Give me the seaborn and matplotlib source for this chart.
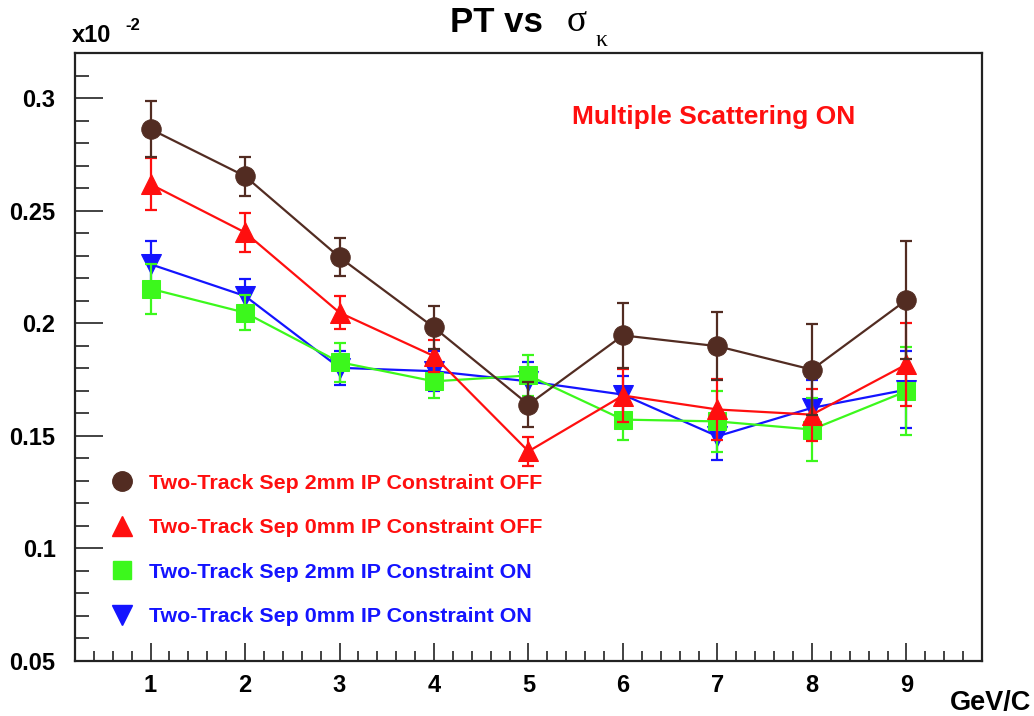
import matplotlib
matplotlib.use('Agg')
from matplotlib import pyplot as plt
from matplotlib.lines import Line2D
from matplotlib.ticker import MultipleLocator, FormatStrFormatter
import seaborn as sns
import numpy as np

sns.set_theme(style='white')
plt.rcParams['font.family'] = ['Liberation Sans', 'DejaVu Sans']
plt.rcParams['text.color'] = 'black'

pt = [1, 2, 3, 4, 5, 6, 7, 8, 9]

sep2_off = [0.2862, 0.2653, 0.2293, 0.1981, 0.1639, 0.1946, 0.1898, 0.1794, 0.2103]
sep2_off_err = [0.0125, 0.0087, 0.0085, 0.0097, 0.0098, 0.0143, 0.0152, 0.0202, 0.0260]

sep0_off = [0.2617, 0.2403, 0.2047, 0.1854, 0.1431, 0.1679, 0.1617, 0.1594, 0.1817]
sep0_off_err = [0.0115, 0.0085, 0.0073, 0.0070, 0.0065, 0.0118, 0.0137, 0.0115, 0.0186]

sep2_on = [0.2153, 0.2047, 0.1827, 0.1742, 0.1768, 0.1572, 0.1564, 0.1528, 0.1698]
sep2_on_err = [0.0112, 0.0078, 0.0086, 0.0075, 0.0090, 0.0089, 0.0135, 0.0140, 0.0195]

sep0_on = [0.2262, 0.2121, 0.1802, 0.1787, 0.1742, 0.1683, 0.1498, 0.1624, 0.1705]
sep0_on_err = [0.0105, 0.0075, 0.0075, 0.0090, 0.0085, 0.0082, 0.0105, 0.0123, 0.0172]

labels = ['Two-Track Sep 2mm IP Constraint OFF',
          'Two-Track Sep 0mm IP Constraint OFF',
          'Two-Track Sep 2mm IP Constraint ON',
          'Two-Track Sep 0mm IP Constraint ON']

series = [
    (sep2_off, sep2_off_err, '#522c22', 'o', 14, 8),
    (sep0_off, sep0_off_err, '#ff0f0f', '^', 15, 7),
    (sep2_on, sep2_on_err, '#3cf81c', 's', 13, 6),
    (sep0_on, sep0_on_err, '#1414ff', 'v', 15, 5),
]
text_colors = ['#ff0f0f', '#ff0f0f', '#1414ff', '#1414ff']

fig = plt.figure(figsize=(10.34, 7.16), dpi=100)
ax = fig.add_axes([0.0725, 0.0768, 0.8772, 0.8492])

handles = []
for (vals, errs, color, mk, ms, z) in series:
    ax.errorbar(pt, vals, yerr=errs, fmt='none', ecolor=color, elinewidth=1.6,
                capsize=4, capthick=1.6, zorder=z)
    sns.lineplot(x=pt, y=vals, ax=ax, color=color, marker=mk, markersize=ms,
                 markeredgecolor=color, linewidth=1.6, zorder=z + 0.5)
    handles.append(Line2D([], [], color=color, marker=mk, markersize=ms,
                          markeredgecolor=color, linestyle='none'))

ax.set_xlim(0.2, 9.8)
ax.set_ylim(0.05, 0.32)
ax.xaxis.set_major_locator(MultipleLocator(1))
ax.xaxis.set_minor_locator(MultipleLocator(0.2))
ax.yaxis.set_major_locator(MultipleLocator(0.05))
ax.yaxis.set_minor_locator(MultipleLocator(0.01))
ax.yaxis.set_major_formatter(FormatStrFormatter('%g'))
ax.set_xticks([1, 2, 3, 4, 5, 6, 7, 8, 9])
ax.tick_params(axis='x', which='major', direction='in', length=13, width=1.2,
               pad=9, labelsize=17, bottom=True, top=False, color='#222222',
               labelcolor='black')
ax.tick_params(axis='x', which='minor', direction='in', length=7, width=1.2,
               bottom=True, top=False, color='#222222')
ax.tick_params(axis='y', which='major', direction='in', length=20, width=1.2,
               pad=14, labelsize=17, left=True, right=False, color='#222222',
               labelcolor='black')
ax.tick_params(axis='y', which='minor', direction='in', length=10, width=1.2,
               left=True, right=False, color='#222222')
for lab in ax.get_xticklabels() + ax.get_yticklabels():
    lab.set_fontweight('bold')
for sp in ax.spines.values():
    sp.set_color('#222222')
    sp.set_linewidth(1.6)
ax.set_xlabel('')
ax.set_ylabel('')

leg = ax.legend(handles, labels, loc='upper left', bbox_to_anchor=(0.040, 0.308),
                frameon=False, handlelength=1.0, handletextpad=0.75,
                labelspacing=1.19, borderpad=0, borderaxespad=0,
                prop={'weight': 'bold', 'size': 15.4})
for t, c in zip(leg.get_texts(), text_colors):
    t.set_color(c)

ax.text(0.548, 0.894, 'Multiple Scattering ON', transform=ax.transAxes,
        color='#ff0f0f', fontsize=19, fontweight='bold', ha='left', va='center')

fig.text(0.435, 0.968, 'PT vs', ha='left', va='center',
         fontsize=25, fontweight='bold', color='black')
fig.text(0.548, 0.970, '\u03c3', ha='left', va='center', fontsize=27,
         family=['Liberation Serif', 'DejaVu Serif'], color='black')
fig.text(0.576, 0.944, '\u03ba', ha='left', va='center', fontsize=17,
         family=['Liberation Serif', 'DejaVu Serif'], color='black')
fig.text(0.069, 0.950, 'x10', ha='left', va='center', fontsize=17, fontweight='bold',
         color='black')
fig.text(0.121, 0.964, '-2', ha='left', va='center', fontsize=12, fontweight='bold',
         color='black')
fig.text(0.997, 0.018, 'GeV/C', ha='right', va='center', fontsize=19.5,
         fontweight='bold', color='black')

plt.savefig('out.png', dpi=100)
